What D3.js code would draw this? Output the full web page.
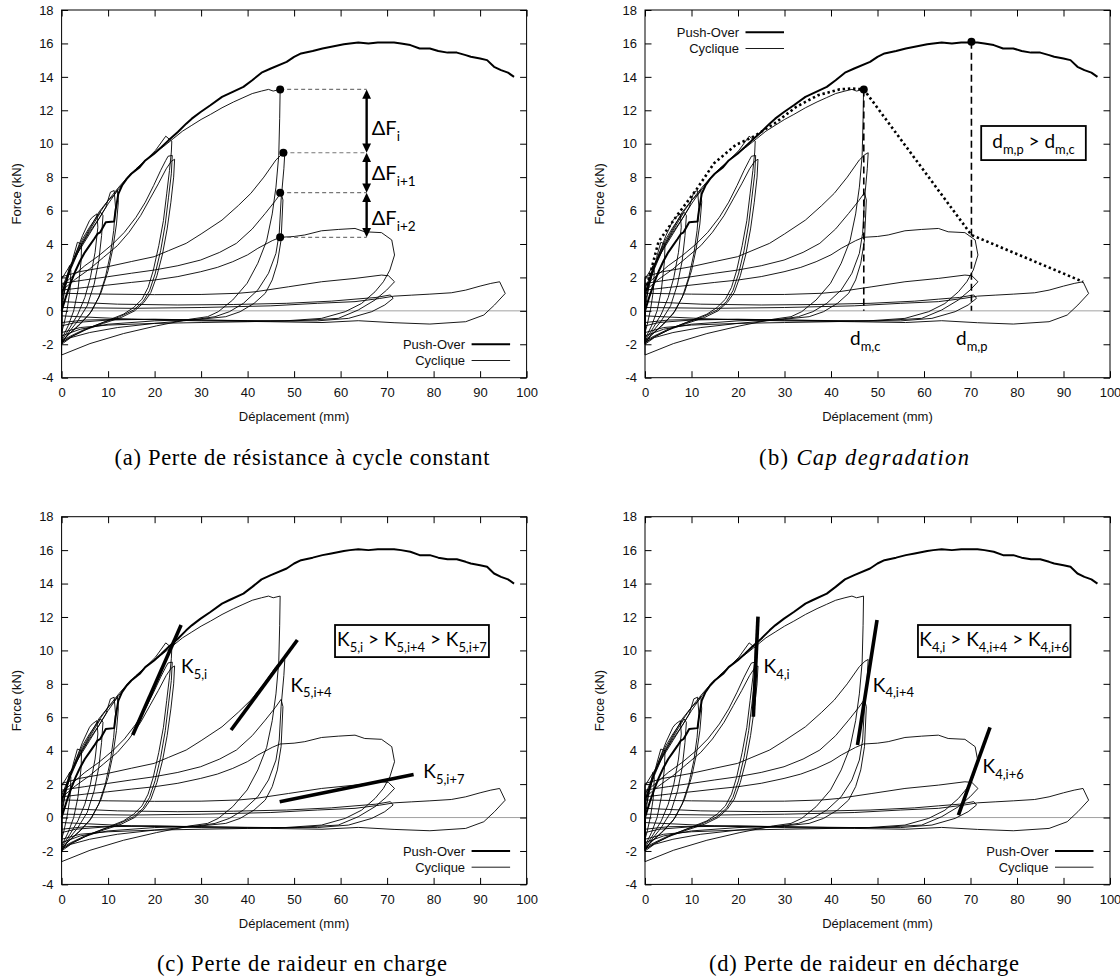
<!DOCTYPE html>
<html>
<head>
<meta charset="utf-8">
<script src="https://cdn.jsdelivr.net/npm/d3@7"></script>
<style>
body { margin: 0; background: #fff; }
svg text { font-family: "Liberation Sans", Arial, sans-serif; }
</style>
</head>
<body>
<svg id="fig" width="1120" height="980"></svg>
<script>
// ---- data ----
const xTicks = [0, 10, 20, 30, 40, 50, 60, 70, 80, 90, 100];
const yTicks = [-4, -2, 0, 2, 4, 6, 8, 10, 12, 14, 16, 18];

// monotonic push-over curve (d mm, F kN)
const pushOver = [[0,0],[1,0.9],[2,1.7],[3,2.4],[4,3.0],[5,3.5],[6,3.9],[7,4.3],[7.7,4.6],[8.3,4.7],[9.5,5.3],[11.3,5.35],[11.6,6.0],[12.2,7.0],
  [13,7.5],[14,7.9],[15,8.2],[16.8,8.6],[18,9.0],[19.9,9.4],[21.5,9.8],[23,10.2],[25,10.7],[26.8,11.2],[28,11.5],[29.9,11.9],
  [32,12.3],[34.5,12.8],[36,13.0],[39.1,13.4],[41,13.8],[43,14.25],[45,14.5],[48.4,14.9],[50,15.2],[51.5,15.4],[54,15.55],
  [56.1,15.7],[58,15.8],[60.7,15.95],[62,16.0],[63.8,16.05],[66,16.0],[68,16.05],[70,16.05],[71.5,16.05],[73,16.0],[75,15.9],
  [77,15.7],[79.2,15.7],[81,15.55],[83,15.45],[85,15.45],[86.9,15.3],[88,15.2],[90,15.1],[91.5,15.0],[93,14.6],[94.5,14.4],
  [96,14.25],[97.3,14.0]];

// cyclic test, one array per amplitude group (path is continuous)
const cycSmall = [[0,0],[0.8,1.5],[1.7,2.7],[2.0,2.4],[1.8,1.2],[1.2,0.1],[0.5,-0.8],[0,-1.3],
  [0,0.5],[1.2,1.8],[2.5,3.2],[3.4,4.1],[4.3,4.0],[4.2,3.0],[3.5,1.2],[2.6,0.0],[1.4,-0.9],[0,-1.7],
  [0,0.8],[1.5,2.2],[3.0,3.4],[4.5,4.5],[6.0,5.4],[6.6,5.6],[7.6,5.8],[7.8,5.0],[7.2,3.5],[6.2,2.0],[5.0,0.8],[3.5,-0.2],[1.8,-1.0],[0,-1.8],
  [0,1.0],[2.0,2.5],[4.0,3.8],[6.0,4.8],[7.5,5.5],[8.4,5.9],[8.9,5.7],[8.6,4.5],[8.0,3.0],[7.0,1.6],[5.5,0.3],[3.5,-0.6],[1.5,-1.3],[0,-2.0],
  [0,1.1],[2.0,2.6],[4.0,3.8],[6.0,4.7],[8.0,5.5],[9.5,6.2],[10.5,7.1],[11.3,7.2],[11.6,6.2],[11.2,4.8],[10.5,3.4],[9.4,2.0],[8.0,0.8],[6.0,-0.2],[3.5,-0.9],[1.5,-1.4],[0,-1.9],
  [0,1.3],[2.0,2.7],[4.0,3.9],[6.0,4.9],[8.0,5.9],[10.0,6.6],[11.5,7.0],[12.0,7.25],[12.2,6.5],[11.8,5.2],[11.0,3.7],[10.0,2.4],[8.5,1.1],[6.5,0.0],[4.0,-0.8],[2.0,-1.3],[0,-1.8]];

const cyc24 = [[0,1.0],[1.5,2.3],[3,3.4],[4.5,4.3],[6,5.0],[8,5.8],[10,6.6],[12.3,7.4],[14.5,8.1],[17.3,8.8],[20.2,9.6],[22.4,10.45],[23.7,10.15],
  [23.6,9.5],[23.2,8.4],[22.6,7.0],[21.9,5.4],[20.9,3.9],[19.7,2.4],[18.6,1.4],[17.3,0.7],[15.5,0.2],[13.3,-0.2],[9.7,-0.6],[6.1,-1.0],[2.5,-1.5],[0,-1.9],
  [0,1.5],[2.5,2.1],[5,2.7],[8,3.3],[11,4.0],[13.5,4.7],[16,5.6],[18,6.5],[19.8,7.5],[21.3,8.4],[22.4,9.0],[22.9,9.25],[23.8,9.3],
  [23.6,8.2],[23.0,6.8],[22.3,5.2],[21.3,3.6],[20.1,2.2],[18.9,1.2],[17.5,0.55],[15.5,0.05],[12.5,-0.35],[9,-0.7],[5,-1.1],[2,-1.5],[0,-1.8],
  [0,1.2],[3,1.9],[6,2.5],[9,3.2],[12,3.9],[14.5,4.7],[17,5.7],[19,6.7],[20.8,7.6],[22.5,8.5],[23.6,8.95],[24.3,9.07],
  [24.1,8.0],[23.5,6.5],[22.7,4.9],[21.7,3.4],[20.5,2.1],[19.2,1.1],[17.7,0.5],[15.7,0.0],[12.8,-0.4],[9,-0.75],[5,-1.15],[2,-1.55],[0,-1.9]];

const cyc48 = [[0,1.9],[2,2.8],[4,3.7],[6,4.6],[8,5.5],[10,6.4],[12,7.2],[14,7.9],[16,8.5],[18,9.0],[20,9.45],[22,9.85],[24,10.3],[26,10.75],
  [28,11.1],[30,11.45],[32,11.75],[34.5,12.15],[37,12.5],[39,12.75],[41,13.0],[43,13.15],[44.5,13.25],[45.5,13.15],[47,13.25],
  [46.9,11.5],[46.7,9.3],[46.1,7.4],[45.3,5.8],[44.1,4.2],[42.2,2.85],[39.9,1.65],[36.8,0.65],[33.7,-0.05],[31.4,-0.35],
  [27.6,-0.5],[20.4,-0.9],[13.3,-1.36],[6.1,-1.96],[0,-2.64],
  [0,2.04],[4,2.35],[9.9,2.64],[15,2.95],[19.9,3.24],[23,3.6],[26.8,4.04],[30,4.6],[34.5,5.43],[38,6.3],[40.7,7.03],[43.5,8.0],
  [46.1,9.03],[47.3,9.35],[48,9.46],[47.8,8.5],[47.2,6.63],[46.8,4.64],[46.1,3.44],[44.5,2.25],[42.2,1.25],[39.1,0.45],
  [36.1,-0.05],[33,-0.35],[28,-0.55],[20,-0.75],[12,-1.0],[6,-1.3],[2,-1.6],[0,-2.0],
  [0,1.64],[5,1.85],[9.9,2.04],[15,2.25],[19.9,2.44],[25,2.7],[29.9,3.04],[34,3.5],[37.6,4.04],[41,4.9],[43.8,5.83],[46,6.6],
  [47.2,7.07],[47.6,6.63],[47.2,4.24],[46.4,2.85],[45.3,1.85],[43.8,1.05],[41.4,0.45],[38.4,-0.05],[35.3,-0.35],[30,-0.5],
  [20,-0.6],[10,-0.8],[4,-1.1],[0,-1.5]];

const cyc72 = [[0,1.24],[5,1.4],[9.9,1.54],[15,1.7],[19.9,1.84],[25,2.05],[29.9,2.34],[33.5,2.6],[36.8,2.94],[40,3.35],[42.2,3.74],
  [45.3,4.2],[47,4.4],[50,4.45],[52.3,4.54],[55.9,4.79],[59.5,4.87],[63.1,4.93],[65.2,4.73],[68.8,4.68],[71,4.24],[71.6,3.34],
  [70.6,2.44],[69.2,1.74],[67.4,1.14],[64.5,0.44],[61,-0.05],[55.9,-0.45],[48,-0.6],[40,-0.65],[30,-0.7],[20,-0.75],[10,-0.85],
  [4,-1.0],[0,-1.3],
  [0,1.05],[10,1.0],[20,0.97],[30,0.98],[38,1.05],[41.6,1.14],[48.8,1.44],[55.9,1.74],[63.1,1.94],[68.8,2.14],[70.3,2.1],
  [71.6,1.74],[69.9,1.24],[67.4,0.65],[63.8,0.05],[59.5,-0.45],[50,-0.6],[40,-0.6],[30,-0.55],[20,-0.5],[10,-0.55],[3,-0.7],[0,-0.9],
  [0,0.55],[12,0.4],[25,0.35],[37,0.38],[48.4,0.45],[58,0.58],[63.1,0.7],[67.6,0.8],[70.7,0.95],[71.3,0.75],[69.5,0.35],
  [66.7,-0.05],[61.7,-0.45],[55,-0.6],[45,-0.6],[30,-0.55],[15,-0.5],[5,-0.55],[0,-0.7]];

const cyc96 = [[0,0.2],[15,0.15],[30,0.2],[45,0.3],[55,0.45],[63.1,0.55],[68.4,0.74],[71.5,0.88],[75.3,0.94],[79.2,1.0],[83.8,1.08],
  [86.9,1.24],[90,1.48],[92.3,1.64],[94.2,1.74],[95.4,1.04],[93.1,0.35],[90.8,-0.25],[86.9,-0.65],[79.2,-0.79],[71.5,-0.71],
  [63.8,-0.59],[56,-0.7],[45,-0.65],[30,-0.6],[15,-0.5],[0,-0.3]];

// annotation values
const deltaDots = [[47.0,13.25],[47.7,9.46],[47.0,7.07],[47.0,4.40]];
const deltaSubs = ["i", "i+1", "i+2"];
const deltaLabelF = [10.52, 7.8, 5.13];
const capDots = [[47.05,13.25],[70.2,16.1]];
const capEnvelope = [[0.2,1.24],[2.9,4.13],[7.2,5.83],[11.0,7.23],[14.85,8.83],[19.5,9.92],[23.3,10.42],[27.9,11.22],[32.5,12.2],
  [37.2,12.9],[41.8,13.25],[44.5,13.3],[47.05,13.25],[70.2,4.54],[94.2,1.74]];
const k5Lines = [[[15.3,4.94],[25.7,11.52]], [[36.45,5.24],[50.7,10.62]], [[46.9,0.94],[75.7,2.58]]];
const k5Labels = [[25.7,8.63,"5,i"], [49.2,7.53,"5,i+4"], [77.8,2.34,"5,i+7"]];
const k4Lines = [[[23.3,6.03],[24.3,12.02]], [[45.7,4.34],[49.9,11.82]], [[67.4,0.15],[74.2,5.4]]];
const k4Labels = [[25.5,8.63,"4,i"], [49.0,7.53,"4,i+4"], [72.6,2.64,"4,i+6"]];
const legendLabels = ["Push-Over", "Cyclique"];

// ---- layout ----
const svg = d3.select("#fig");
const PW = 465, PH = 367.7;
const annoFont = "Lato, 'Open Sans', sans-serif";
const panels = [
  {key: "a", left: 61.6, top: 10, legend: "bottom", capX: 302, capY: 465, capW: 375, cap: [["(a) Perte de résistance à cycle constant", false]]},
  {key: "b", left: 645, top: 10, legend: "top", capX: 864, capY: 465, capW: 210, cap: [["(b) ", false], ["Cap degradation", true]]},
  {key: "c", left: 61.6, top: 516.7, legend: "bottom", capX: 302, capY: 971, capW: 290, cap: [["(c) Perte de raideur en charge", false]]},
  {key: "d", left: 645, top: 516.7, legend: "bottom", capX: 864, capY: 971, capW: 310, cap: [["(d) Perte de raideur en décharge", false]]}
];
const cyclic = [].concat(cycSmall, cyc24, cyc48, cyc72, cyc96);

// text with subscripts: parts = [[str, isSub], ...]
function richText(g, x, y, parts, fs, anchor) {
  const t = g.append("text")
    .attr("x", x).attr("y", y)
    .attr("font-size", fs)
    .attr("text-anchor", anchor || "start")
    .style("font-family", annoFont)
    .style("white-space", "pre");
  let down = false;
  parts.forEach(p => {
    const ts = t.append("tspan").text(p[0]);
    if (p[1]) {
      ts.attr("font-size", fs * 0.68);
      if (!down) { ts.attr("dy", fs * 0.3); down = true; }
    } else if (down) {
      ts.attr("dy", -fs * 0.3); down = false;
    }
  });
  return t;
}

function drawPanel(p) {
  const g = svg.append("g");
  const x = d3.scaleLinear().domain([0, 100]).range([p.left, p.left + PW]);
  const y = d3.scaleLinear().domain([-4, 18]).range([p.top + PH, p.top]);
  const line = d3.line().x(d => x(d[0])).y(d => y(d[1]));

  // zero line
  g.append("line")
    .attr("x1", x(0)).attr("x2", x(100))
    .attr("y1", y(0)).attr("y2", y(0))
    .attr("stroke", "#8a8a8a").attr("stroke-width", 0.8);

  // axes (inward ticks on all four sides)
  const fmt = d => String(d);
  const bottom = g.append("g").attr("transform", `translate(0,${p.top + PH})`)
    .call(d3.axisBottom(x).tickValues(xTicks).tickFormat(fmt).tickSizeInner(-6.5).tickSizeOuter(0).tickPadding(10.5));
  const left = g.append("g").attr("transform", `translate(${p.left},0)`)
    .call(d3.axisLeft(y).tickValues(yTicks).tickFormat(fmt).tickSizeInner(-6.5).tickSizeOuter(0).tickPadding(8));
  const top = g.append("g").attr("transform", `translate(0,${p.top})`)
    .call(d3.axisTop(x).tickValues(xTicks).tickFormat("").tickSizeInner(-6.5).tickSizeOuter(0));
  const right = g.append("g").attr("transform", `translate(${p.left + PW},0)`)
    .call(d3.axisRight(y).tickValues(yTicks).tickFormat("").tickSizeInner(-6.5).tickSizeOuter(0));
  [bottom, left, top, right].forEach(a => {
    a.select(".domain").remove();
    a.attr("font-family", null).attr("font-size", null);
    a.selectAll("line").attr("stroke", "#000").attr("stroke-width", 1);
    a.selectAll("text").attr("font-size", 13).attr("fill", "#111");
  });

  g.append("rect")
    .attr("x", p.left).attr("y", p.top).attr("width", PW).attr("height", PH)
    .attr("fill", "none").attr("stroke", "#000").attr("stroke-width", 1);

  // axis titles
  g.append("text")
    .attr("x", p.left + PW / 2).attr("y", p.top + PH + 43.5)
    .attr("text-anchor", "middle").attr("font-size", 13).attr("fill", "#111")
    .text("Déplacement (mm)");
  g.append("text")
    .attr("transform", `translate(${p.left - 41},${p.top + PH / 2}) rotate(-90)`)
    .attr("text-anchor", "middle").attr("font-size", 13).attr("fill", "#111")
    .text("Force (kN)");

  // curves
  g.append("path").datum(cyclic).attr("d", line)
    .attr("fill", "none").attr("stroke", "#000").attr("stroke-width", 0.9).attr("stroke-linejoin", "round");
  g.append("path").datum(pushOver).attr("d", line)
    .attr("fill", "none").attr("stroke", "#000").attr("stroke-width", 2).attr("stroke-linejoin", "round");

  // legend
  let lx, ly;
  if (p.legend === "bottom") { lx = p.left + PW - 16.5; ly = p.top + PH - 33.4; }
  else { lx = p.left + 139; ly = p.top + 22.3; }
  legendLabels.forEach((lab, i) => {
    const yy = ly + i * 16.2;
    g.append("text").attr("x", lx - 45).attr("y", yy + 4.6)
      .attr("text-anchor", "end").attr("font-size", 13).attr("fill", "#111").text(lab);
    g.append("line").attr("x1", lx - 38.5).attr("x2", lx).attr("y1", yy).attr("y2", yy)
      .attr("stroke", "#000").attr("stroke-width", i === 0 ? 2 : 0.9);
  });

  // caption
  const cap = svg.append("text").attr("x", p.capX).attr("y", p.capY)
    .attr("text-anchor", "middle").attr("font-size", 22.5)
    .attr("textLength", p.capW).attr("lengthAdjust", "spacing")
    .style("font-family", "'Liberation Serif', 'DejaVu Serif', serif").style("white-space", "pre");
  p.cap.forEach(c => cap.append("tspan").text(c[0]).attr("font-style", c[1] ? "italic" : null));

  const box = (x0, x1, f0, f1) => g.append("rect")
    .attr("x", x(x0)).attr("y", y(f0)).attr("width", x(x1) - x(x0)).attr("height", y(f1) - y(f0))
    .attr("fill", "#fff").attr("stroke", "#000").attr("stroke-width", 1.8);

  if (p.key === "a") {
    const ax = 65.6;
    deltaDots.forEach(d => {
      g.append("line").attr("x1", x(d[0])).attr("x2", x(ax)).attr("y1", y(d[1])).attr("y2", y(d[1]))
        .attr("stroke", "#777").attr("stroke-width", 1.2).attr("stroke-dasharray", "4,3");
    });
    for (let i = 0; i < 3; i++) {
      const y0 = y(deltaDots[i][1]), y1 = y(deltaDots[i + 1][1]), xx = x(ax);
      g.append("line").attr("x1", xx).attr("x2", xx).attr("y1", y0 + 8).attr("y2", y1 - 8)
        .attr("stroke", "#000").attr("stroke-width", 2.4);
      g.append("path").attr("d", `M${xx},${y0} L${xx - 4.4},${y0 + 9.3} L${xx + 4.4},${y0 + 9.3} Z`).attr("fill", "#000");
      g.append("path").attr("d", `M${xx},${y1} L${xx - 4.4},${y1 - 9.3} L${xx + 4.4},${y1 - 9.3} Z`).attr("fill", "#000");
      richText(g, x(66.7), y(deltaLabelF[i]), [["ΔF", false], [deltaSubs[i], true]], 20);
    }
    deltaDots.forEach(d => g.append("circle").attr("cx", x(d[0])).attr("cy", y(d[1])).attr("r", 4).attr("fill", "#000"));
  }

  if (p.key === "b") {
    g.append("path").datum(capEnvelope).attr("d", line)
      .attr("fill", "none").attr("stroke", "#000").attr("stroke-width", 2.6).attr("stroke-dasharray", "2.4,2.8");
    capDots.forEach(d => {
      g.append("line").attr("x1", x(d[0])).attr("x2", x(d[0])).attr("y1", y(d[1])).attr("y2", y(0))
        .attr("stroke", "#000").attr("stroke-width", 1.6).attr("stroke-dasharray", "7,4");
      g.append("circle").attr("cx", x(d[0])).attr("cy", y(d[1])).attr("r", 4).attr("fill", "#000");
    });
    richText(g, x(44.1), y(-2.05), [["d", false], ["m,c", true]], 19);
    richText(g, x(66.9), y(-2.05), [["d", false], ["m,p", true]], 19);
    box(72.3, 94.8, 11.06, 9.02);
    richText(g, x((72.3 + 94.8) / 2), y(10.04) + 5, [["d", false], ["m,p", true], [" > d", false], ["m,c", true]], 19, "middle");
  }

  if (p.key === "c" || p.key === "d") {
    const lines = p.key === "c" ? k5Lines : k4Lines;
    const labels = p.key === "c" ? k5Labels : k4Labels;
    lines.forEach(l => g.append("line")
      .attr("x1", x(l[0][0])).attr("y1", y(l[0][1])).attr("x2", x(l[1][0])).attr("y2", y(l[1][1]))
      .attr("stroke", "#000").attr("stroke-width", 3.6));
    labels.forEach(l => richText(g, x(l[0]), y(l[1]), [["K", false], [l[2], true]], 19));
    const x0 = p.key === "c" ? 58.8 : 58.7, x1 = p.key === "c" ? 91.9 : 91.5;
    box(x0, x1, 11.52, 9.6);
    const s = labels.map(l => l[2]);
    richText(g, x((x0 + x1) / 2), y(10.56) + 5,
      [["K", false], [s[0], true], [" > K", false], [s[1], true], [" > K", false], [s[2], true]], 19, "middle");
  }
}

panels.forEach(drawPanel);
</script>
</body>
</html>
